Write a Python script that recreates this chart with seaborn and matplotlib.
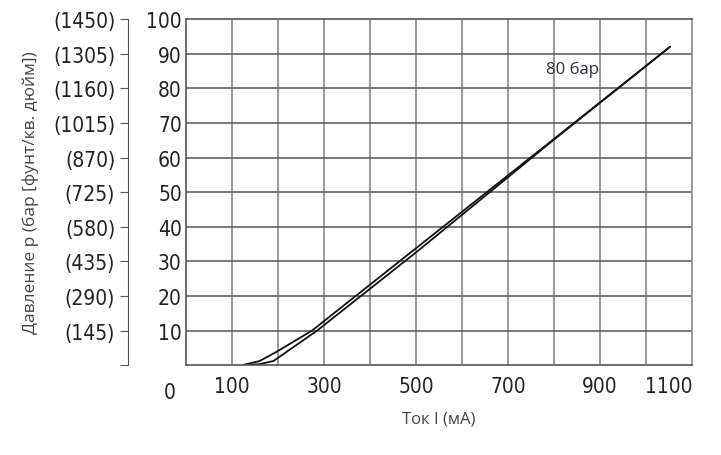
import pandas as pd
import seaborn as sns
import matplotlib.pyplot as plt

# current (mA) vs pressure (bar), rising and falling branches
up_ma = [122, 160, 196, 274, 500, 800, 1052]
up_bar = [0, 1.2, 3.8, 10, 33.8, 65.4, 92]
down_ma = [122, 160, 190, 285, 500, 800, 1052]
down_bar = [0, 0.3, 1.2, 10, 32.6, 65.2, 92]

bar_ticks = [10, 20, 30, 40, 50, 60, 70, 80, 90, 100]
psi_labels = ["(145)", "(290)", "(435)", "(580)", "(725)", "(870)",
              "(1015)", "(1160)", "(1305)", "(1450)"]
x_ticks = [100, 300, 500, 700, 900, 1050]
x_labels = ["100", "300", "500", "700", "900", "1100"]

sns.set_style("white")
plt.rcParams['font.family'] = ["Open Sans", "DejaVu Sans"]
TICK = dict(family=["DejaVu Sans"], fontstretch='condensed', fontsize=15,
            color='#222222')

fig = plt.figure(figsize=(7.21, 4.56), dpi=100)
ax = fig.add_axes([0.258, 0.197, 0.702, 0.759])

for gx in range(100, 1100, 100):
    ax.axvline(gx, color='#8a8a8a', lw=1.2, zorder=0)
for gy in range(10, 100, 10):
    ax.axhline(gy, color='#555555', lw=1.1, zorder=0)

df = pd.concat([pd.DataFrame({'I': up_ma, 'p': up_bar, 'b': 'up'}),
                pd.DataFrame({'I': down_ma, 'p': down_bar, 'b': 'down'})])
sns.lineplot(data=df, x='I', y='p', units='b', estimator=None,
             color='#111111', lw=1.3, sort=False, ax=ax)

ax.set_xlim(0, 1100)
ax.set_ylim(0, 100)
for s in ax.spines.values():
    s.set_color('#555555')
    s.set_linewidth(1.2)
ax.spines['right'].set_color('#8a8a8a')
ax.tick_params(length=0)

ax.set_xticks(x_ticks)
ax.set_xticklabels(x_labels, **TICK)
ax.set_yticks(bar_ticks)
ax.set_yticklabels([str(v) for v in bar_ticks], **TICK)
ax.tick_params(axis='x', pad=8)
ax.tick_params(axis='y', pad=3)
ax.text(-35, -5, "0", ha='center', va='top', **TICK)
ax.set_ylabel("")
ax.set_xlabel("Ток I (мА)", fontsize=12, color='#444444', labelpad=10)
ax.text(840, 85.5, "80 бар", fontsize=12, color='#2b3040', ha='center',
        va='center')

ax2 = ax.twinx()
ax2.set_ylim(0, 100)
ax2.yaxis.set_ticks_position('left')
ax2.yaxis.set_label_position('left')
ax2.spines['left'].set_position(('outward', 42))
ax2.spines['left'].set_color('#555555')
for side in ['right', 'top', 'bottom']:
    ax2.spines[side].set_visible(False)
ax2.set_yticks([0] + bar_ticks)
ax2.set_yticklabels([""] + psi_labels, **TICK)
ax2.tick_params(axis='y', length=6, color='#555555', pad=3)
ax2.set_ylabel("Давление p (бар [фунт/кв. дюйм])", fontsize=12.5,
               color='#444444', labelpad=10)

fig.savefig("out.png", dpi=100)
